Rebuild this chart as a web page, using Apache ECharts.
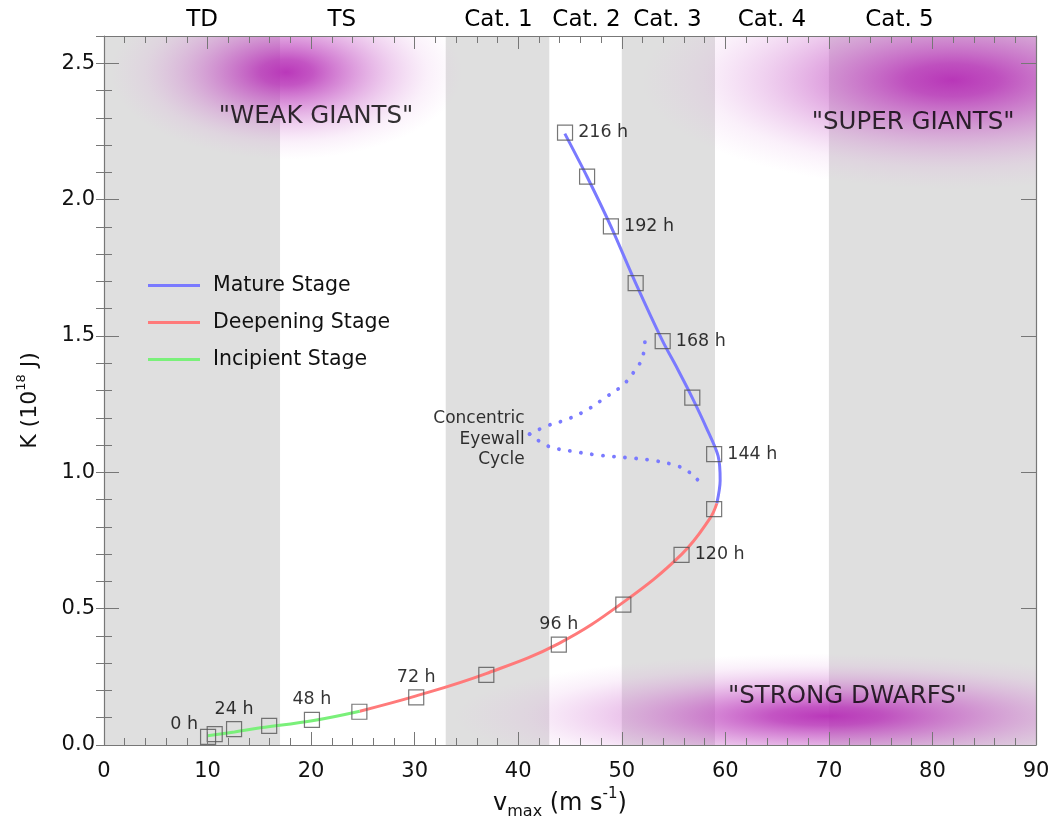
<!DOCTYPE html>
<html><head><meta charset="utf-8">
<script src="https://cdn.jsdelivr.net/npm/echarts@6/dist/echarts.min.js"></script>
<style>html,body{margin:0;padding:0;background:#fff}#chart{width:1059px;height:819px}</style>
</head><body><div id="chart"></div>
<script>
// ---------------- data ----------------
const bandEdges = [0, 17, 33, 43, 50, 59, 70, 90];
const bandNames = ['TD', 'TS', 'Cat. 1', 'Cat. 2', 'Cat. 3', 'Cat. 4', 'Cat. 5'];
const xTickLabels = ['0', '10', '20', '30', '40', '50', '60', '70', '80', '90'];
const yTickLabels = ['0.0', '0.5', '1.0', '1.5', '2.0', '2.5'];

const incipient = [[10.0, 0.034], [12.6, 0.048], [15.1, 0.063], [20.1, 0.089], [24.7, 0.124]];
const deepening = [[24.7, 0.124], [30.15, 0.18], [36.9, 0.262], [43.9, 0.372], [50.1, 0.522], [55.8, 0.70], [58.5, 0.83], [59.18, 0.886]];
const mature = [[59.18, 0.886], [59.5, 0.97], [59.3, 1.06], [58.15, 1.165], [56.8, 1.274], [55.4, 1.378], [53.95, 1.481], [51.34, 1.694], [48.95, 1.902], [46.65, 2.084], [44.5, 2.242]];
const cecUpper = [[41.1, 1.14], [42.7, 1.169], [44.7, 1.194], [46.6, 1.228], [48.4, 1.274], [50.2, 1.323], [51.4, 1.381], [52.0, 1.42], [52.25, 1.49]];
const cecLower = [[41.1, 1.14], [42.9, 1.096], [45.1, 1.078], [48.0, 1.062], [51.3, 1.051], [53.3, 1.042], [55.3, 1.024], [56.3, 1.006], [57.1, 0.981], [57.8, 0.952]];

const squareHours = [0, 12, 24, 36, 48, 60, 72, 84, 96, 108, 120, 132, 144, 156, 168, 180, 192, 204, 216];
const squareV = [10.05, 10.69, 12.56, 15.95, 20.08, 24.66, 30.15, 36.92, 43.92, 50.15, 55.77, 58.92, 58.92, 56.81, 53.95, 51.34, 48.95, 46.65, 44.52];
const squareK = [0.030, 0.040, 0.058, 0.070, 0.092, 0.122, 0.175, 0.257, 0.368, 0.515, 0.697, 0.865, 1.067, 1.274, 1.481, 1.694, 1.902, 2.084, 2.246];

const regionNames = ['"WEAK GIANTS"', '"SUPER GIANTS"', '"STRONG DWARFS"'];
const regionCentres = [[17.6, 2.467], [81.9, 2.438], [69.8, 0.106]];
const regionTextAt = [[20.47, 2.305], [78.14, 2.282], [71.8, 0.176]];
const cecText = 'Concentric\nEyewall\nCycle';
const cecTip = [41.1, 1.14];

// ---------------- styles ----------------
const FONT = 'DejaVu Sans';
const frame = '#777';
const yMax = 2.6;
const blue = '#7a7aff', red = '#ff7a7a', green = '#7af07a';
const bandLabelShift = [10, -21, 1, 1, -1, 0, -33];
const blobRadius = [[17, 0.32], [30, 0.40], [36, 0.23]];

const chart = echarts.init(document.getElementById('chart'), null, {renderer: 'canvas'});

function bandItem(params, api) {
  const i = api.value(2);
  const a = api.coord([api.value(0), yMax]);
  const b = api.coord([api.value(1), 0]);
  return {
    type: 'group',
    children: [
      {type: 'rect', shape: {x: a[0], y: a[1], width: b[0] - a[0], height: b[1] - a[1]},
       style: {fill: i % 2 === 0 ? '#dfdfdf' : 'rgba(255,255,255,0)'}},
      {type: 'text', x: (a[0] + b[0]) / 2 + bandLabelShift[i], y: a[1] - 16,
       style: {text: bandNames[i], font: '23px "' + FONT + '"', fill: '#000', align: 'center', verticalAlign: 'middle'}}
    ]
  };
}

const blobStops = [
  {offset: 0, color: 'rgba(182,45,182,0.95)'},
  {offset: 0.15, color: 'rgba(185,55,185,0.85)'},
  {offset: 0.35, color: 'rgba(195,80,195,0.62)'},
  {offset: 0.6, color: 'rgba(210,120,210,0.35)'},
  {offset: 0.8, color: 'rgba(222,150,222,0.14)'},
  {offset: 1, color: 'rgba(230,170,230,0)'}
];

function blobItem(params, api) {
  const i = api.value(2);
  const c = api.coord([api.value(0), api.value(1)]);
  const sz = api.size([blobRadius[i][0], blobRadius[i][1]]);
  const rx = sz[0], ry = sz[1], s = ry / rx;
  const cs = params.coordSys;
  return {
    type: 'group', x: c[0], y: c[1], scaleY: s,
    children: [{
      type: 'rect',
      shape: {x: cs.x - c[0], y: (cs.y - c[1]) / s, width: cs.width, height: cs.height / s},
      style: {fill: new echarts.graphic.RadialGradient(0, 0, rx, blobStops, true)}
    }]
  };
}

function squareLabel(h) {
  if (h % 24 !== 0) return {show: false};
  const base = {show: true, formatter: h + ' h', fontFamily: FONT, fontSize: 17.5, color: '#000'};
  if (h === 0) return Object.assign(base, {position: 'left', distance: 2, offset: [0, -12]});
  if (h <= 96) return Object.assign(base, {position: 'top', distance: 3});
  return Object.assign(base, {position: 'right', distance: 5});
}

const xCommon = {type: 'value', min: 0, max: 90, interval: 10, z: 5,
  axisLine: {show: true, onZero: false, lineStyle: {color: frame, width: 1.2}},
  splitLine: {show: false},
  axisTick: {show: true, inside: true, length: 13, lineStyle: {color: frame}},
  minorTick: {show: true, splitNumber: 5, length: 7, lineStyle: {color: frame}}};
const yCommon = {type: 'value', min: 0, max: yMax, z: 5,
  axisLine: {show: true, onZero: false, lineStyle: {color: frame, width: 1.2}},
  splitLine: {show: false}};

const option = {
  animation: false,
  backgroundColor: '#fff',
  grid: {left: 104, right: 23, top: 36, bottom: 74, containLabel: false, outerBoundsMode: 'none'},
  legend: {
    orient: 'vertical', left: 148, top: 275, padding: 0, itemWidth: 52, itemHeight: 3, itemGap: 16, icon: 'rect',
    data: ['Mature Stage', 'Deepening Stage', 'Incipient Stage'],
    textStyle: {fontFamily: FONT, fontSize: 20.5, color: '#111', lineHeight: 21, padding: [0, 0, 0, 8]},
    selectedMode: false
  },
  xAxis: [
    Object.assign({}, xCommon, {position: 'bottom',
      axisLabel: {show: true, margin: 16, fontFamily: FONT, fontSize: 21, color: '#111',
        formatter: v => xTickLabels[Math.round(v / 10)]},
      name: '{a|v}{sub|max}{a| (m s}{sup|-1}{a|)}', nameLocation: 'middle', nameGap: 39,
      nameTextStyle: {padding: [0, 20, 0, 0], rich: {
        a: {fontFamily: FONT, fontSize: 24, color: '#111', lineHeight: 33},
        sub: {fontFamily: FONT, fontSize: 16, color: '#111', verticalAlign: 'bottom', lineHeight: 16},
        sup: {fontFamily: FONT, fontSize: 15, color: '#111', verticalAlign: 'top', lineHeight: 15}
      }}}),
    Object.assign({}, xCommon, {position: 'top', axisLabel: {show: false}})
  ],
  yAxis: [
    Object.assign({}, yCommon, {position: 'left', interval: 0.5,
      axisTick: {show: true, inside: true, length: 15, lineStyle: {color: frame}},
      axisLabel: {show: true, margin: 9, fontFamily: FONT, fontSize: 21, color: '#111', showMaxLabel: false,
        formatter: v => { const k = Math.round(v / 0.5); return Math.abs(k * 0.5 - v) < 1e-6 ? (yTickLabels[k] || '') : ''; }},
      name: 'K (10{sup|18} J)', nameLocation: 'middle', nameGap: 59, nameRotate: 90,
      nameTextStyle: {fontFamily: FONT, fontSize: 22, color: '#111', lineHeight: 30, padding: [0, 20, 0, 0], rich: {
        sup: {fontFamily: FONT, fontSize: 13, color: '#111', verticalAlign: 'top', lineHeight: 13}
      }}}),
    Object.assign({}, yCommon, {position: 'left', interval: 0.1, axisLine: {show: false},
      axisTick: {show: true, inside: true, length: 8, lineStyle: {color: frame}}, axisLabel: {show: false}}),
    Object.assign({}, yCommon, {position: 'right', interval: 0.5,
      axisTick: {show: true, inside: true, length: 15, lineStyle: {color: frame}}, axisLabel: {show: false}}),
    Object.assign({}, yCommon, {position: 'right', interval: 0.1, axisLine: {show: false},
      axisTick: {show: true, inside: true, length: 8, lineStyle: {color: frame}}, axisLabel: {show: false}})
  ],
  series: [
    {type: 'custom', name: 'bands', z: 0, silent: true, renderItem: bandItem,
     data: bandNames.map((n, i) => [bandEdges[i], bandEdges[i + 1], i])},
    {type: 'custom', name: 'regions', z: 1, silent: true, renderItem: blobItem,
     data: regionCentres.map((p, i) => [p[0], p[1], i])},
    {type: 'line', name: 'Mature Stage', data: mature, smooth: 0.3, symbol: 'none', showSymbol: false, z: 3,
     lineStyle: {color: blue, width: 3}, itemStyle: {color: blue}},
    {type: 'line', name: 'Deepening Stage', data: deepening, smooth: 0.4, symbol: 'none', showSymbol: false, z: 3,
     lineStyle: {color: red, width: 3}, itemStyle: {color: red}},
    {type: 'line', name: 'Incipient Stage', data: incipient, smooth: 0.4, symbol: 'none', showSymbol: false, z: 3,
     lineStyle: {color: green, width: 3}, itemStyle: {color: green}},
    {type: 'line', name: 'cec1', data: cecUpper, smooth: 0.4, symbol: 'none', showSymbol: false, z: 3,
     lineStyle: {color: blue, width: 3.8, type: [0.1, 11], cap: 'round'}, itemStyle: {color: blue}},
    {type: 'line', name: 'cec2', data: cecLower, smooth: 0.4, symbol: 'none', showSymbol: false, z: 3,
     lineStyle: {color: blue, width: 3.8, type: [0.1, 11], cap: 'round'}, itemStyle: {color: blue}},
    {type: 'scatter', name: 'times', z: 4, symbol: 'rect', symbolSize: 15, silent: true,
     itemStyle: {color: 'rgba(0,0,0,0)', borderColor: '#555', borderWidth: 1.2},
     data: squareHours.map((h, i) => ({value: [squareV[i], squareK[i]], label: squareLabel(h)}))},
    {type: 'scatter', name: 'cecText', z: 5, symbolSize: 0, silent: true,
     data: [{value: cecTip, label: {show: true, formatter: cecText, position: 'left', distance: 5, offset: [0, 5],
       fontFamily: FONT, fontSize: 17, lineHeight: 20.5, color: '#000', align: 'right'}}]},
    {type: 'scatter', name: 'regionText', z: 5, symbolSize: 0, silent: true,
     data: regionNames.map((n, i) => ({name: n, value: regionTextAt[i]})),
     label: {show: true, formatter: '{b}', position: 'inside', fontFamily: FONT, fontSize: 24.5, color: '#000'}}
  ]
};
chart.setOption(option);
</script></body></html>
